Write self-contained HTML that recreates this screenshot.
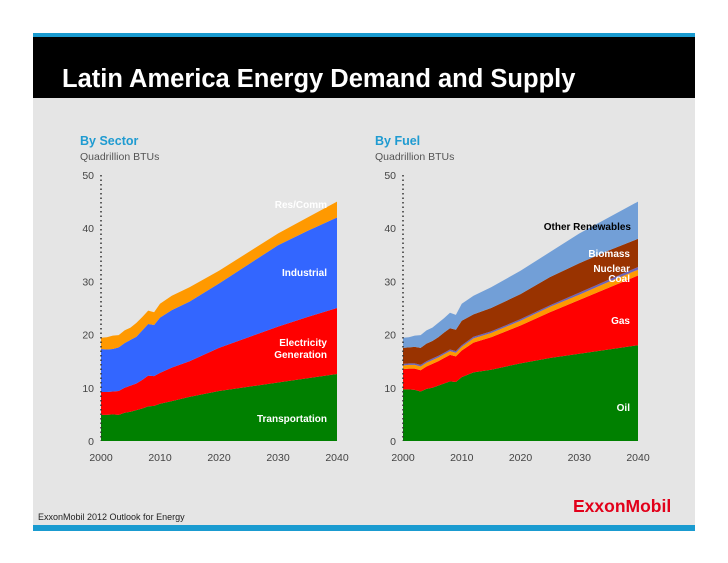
<!DOCTYPE html>
<html><head><meta charset="utf-8">
<style>
body{margin:0;background:#fff;width:728px;height:563px;overflow:hidden;font-family:"Liberation Sans",sans-serif;}
svg{display:block}
</style></head>
<body>
<svg id="chart" width="728" height="563">
<rect x="33" y="33" width="662" height="4" fill="#1a9bd0"/>
<rect x="33" y="37" width="662" height="61" fill="#000"/>
<rect x="33" y="98" width="662" height="427" fill="#e5e5e5"/>
<rect x="33" y="525" width="662" height="6" fill="#1a9bd0"/>
<text x="62" y="87" fill="#fff" font-size="25.5" font-weight="bold">Latin America Energy Demand and Supply</text>
<text x="80" y="145" fill="#1f9bd1" font-size="12.5" font-weight="bold">By Sector</text>
<text x="80" y="160" fill="#555" font-size="10.5">Quadrillion BTUs</text>
<text x="375" y="145" fill="#1f9bd1" font-size="12.5" font-weight="bold">By Fuel</text>
<text x="375" y="160" fill="#555" font-size="10.5">Quadrillion BTUs</text>
<text x="38" y="520" fill="#222" font-size="9">ExxonMobil 2012 Outlook for Energy</text>
<text x="573" y="512" fill="#e2001a" font-size="17.5" font-weight="bold">ExxonMobil</text>
<g id="left"></g><g id="right"></g>
</svg>
<script>
const years=[2000,2001,2002,2003,2004,2005,2006,2007,2008,2009,2010,2012,2015,2020,2025,2030,2035,2040];
const xTicks=[2000,2010,2020,2030,2040];
const yTicks=[0,10,20,30,40,50];
// By sector (layer values)
const transport=[4.9,4.9,5.0,4.9,5.3,5.5,5.8,6.1,6.5,6.6,7.0,7.5,8.3,9.4,10.2,11.0,11.8,12.6];
const electricity=[4.3,4.3,4.3,4.5,4.7,4.9,5.0,5.4,5.8,5.6,5.8,6.3,6.7,8.1,9.3,10.5,11.5,12.4];
const industrial=[8.1,8.0,8.0,8.2,8.4,8.6,8.8,9.3,9.7,9.6,10.4,10.8,11.2,12.1,13.7,15.3,16.2,17.0];
const resComm=[2.1,2.3,2.5,2.3,2.4,2.3,2.6,2.5,2.5,2.4,2.6,2.7,2.7,2.4,2.3,2.2,2.5,3.0];
// By fuel (layer values)
const oil=[9.7,9.7,9.6,9.3,9.8,10.0,10.4,10.8,11.2,11.1,12.0,12.9,13.4,14.6,15.6,16.4,17.2,18.0];
const gas=[3.8,3.9,4.0,4.0,4.2,4.5,4.6,4.8,5.0,4.8,5.0,5.6,6.1,7.1,8.6,10.1,11.6,13.1];
const coal=[0.7,0.7,0.7,0.7,0.7,0.7,0.7,0.7,0.7,0.7,0.7,0.8,0.8,0.9,1.0,1.0,1.1,1.1];
const nuclear=[0.3,0.3,0.3,0.3,0.3,0.3,0.3,0.3,0.3,0.3,0.3,0.3,0.3,0.3,0.3,0.4,0.4,0.5];
const biomass=[3.0,3.0,3.1,3.2,3.3,3.3,3.5,3.8,4.0,4.0,4.6,4.2,4.4,4.7,5.3,5.5,5.5,5.3];
const otherRen=[1.9,1.9,2.1,2.4,2.5,2.5,2.7,2.7,2.9,2.8,3.2,3.5,3.9,4.4,4.7,5.6,6.2,7.0];

const NS="http://www.w3.org/2000/svg";
function mk(tag,parent,attrs){const e=document.createElementNS(NS,tag);for(const k in attrs)e.setAttribute(k,attrs[k]);parent.appendChild(e);return e;}

function drawChart(g,x0,x1,layers,labels,prefix){
  const y0=441,y1=175;
  const xs=v=>x0+(v-2000)/40*(x1-x0);
  const ys=v=>y0-v/50*(y0-y1);
  let base=years.map(()=>0);
  layers.forEach(L=>{
    const top=base.map((b,i)=>b+L.vals[i]);
    let d="M"+years.map((yr,i)=>xs(yr)+","+ys(top[i])).join("L");
    for(let i=years.length-1;i>=0;i--)d+="L"+xs(years[i])+","+ys(base[i]);
    const p=mk("path",g,{d:d+"Z",fill:L.color});
    
    
    base=top;
  });
  const ax=mk("line",g,{x1:x0,x2:x0,y1:y1,y2:y0,stroke:"#333","stroke-width":1.5,"stroke-dasharray":"1.5,3"});
  
  
  yTicks.forEach(t=>{
    const tx=mk("text",g,{x:x0-7,y:ys(t)+4,"text-anchor":"end","font-size":10.5,fill:"#444"});
    tx.textContent=t;
    
    
  });
  xTicks.forEach(t=>{
    const tx=mk("text",g,{x:xs(t),y:461,"text-anchor":"middle","font-size":10.5,fill:"#444"});
    tx.textContent=t;
    
    
  });
  labels.forEach(l=>{
    const tx=mk("text",g,{x:l[1],y:l[2],"text-anchor":"end","font-size":10,"font-weight":"bold",fill:l[3]});
    tx.textContent=l[0];
    
    
  });
}
drawChart(document.getElementById("left"),101,337,[
 {name:"transportation",vals:transport,color:"#008000"},
 {name:"electricity",vals:electricity,color:"#ff0000"},
 {name:"industrial",vals:industrial,color:"#3366ff"},
 {name:"res-comm",vals:resComm,color:"#ff9900"}],
 [["Res/Comm",327,208,"#fff"],["Industrial",327,276,"#fff"],["Electricity",327,346,"#fff"],["Generation",327,358,"#fff"],["Transportation",327,422,"#fff"]],"sector");
drawChart(document.getElementById("right"),403,638,[
 {name:"oil",vals:oil,color:"#008000"},
 {name:"gas",vals:gas,color:"#ff0000"},
 {name:"coal",vals:coal,color:"#ff9900"},
 {name:"nuclear",vals:nuclear,color:"#6d63b8"},
 {name:"biomass",vals:biomass,color:"#993300"},
 {name:"other-renewables",vals:otherRen,color:"#729fd7"}],
 [["Other Renewables",631,230,"#000"],["Biomass",630,257,"#fff"],["Nuclear",630,272,"#fff"],["Coal",630,282,"#fff"],["Gas",630,324,"#fff"],["Oil",630,411,"#fff"]],"fuel");
</script>
</body></html>
